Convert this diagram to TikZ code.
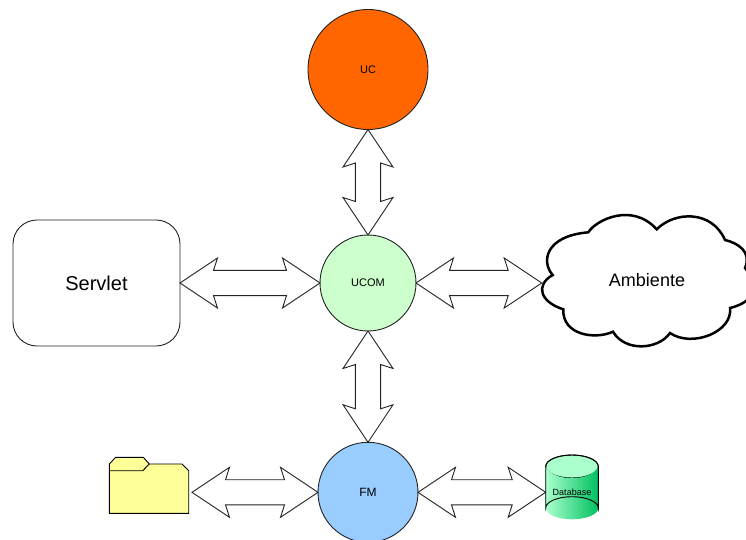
\documentclass[tikz,border=0pt]{standalone}
\usepackage{fontspec}
\setmainfont{Liberation Sans}
\usetikzlibrary{calc}
\definecolor{linegrey}{HTML}{222222}
\definecolor{ucfill}{HTML}{FF6600}
\definecolor{ucomfill}{HTML}{CCFFCC}
\definecolor{fmfill}{HTML}{99CCFF}
\definecolor{folderfill}{HTML}{FFFF99}
\definecolor{dblight}{HTML}{AAFFCC}
\definecolor{dbdark}{HTML}{00C060}
\tikzset{
  ball/.style={circle,draw=linegrey,line width=0.9pt,inner sep=0pt,outer sep=0pt,font=\fontsize{11}{13}\selectfont},
  box/.style={rectangle,draw=linegrey,line width=0.9pt,rounded corners=24pt,fill=white,inner sep=0pt,outer sep=0pt},
  anchorbox/.style={rectangle,inner sep=0pt,outer sep=0pt},
  fatarrow/.style={draw=linegrey,line width=0.9pt,fill=white,line join=miter},
  shapeline/.style={draw=black,line width=0.9pt,line join=miter}
}
\newcommand{\fatdbl}[2]{%
  \draw[fatarrow] (#1) -- ($(#1)!37.5pt!(#2)!25pt!90:(#2)$) -- ($(#1)!33.5pt!(#2)!12.6pt!90:(#2)$)
   -- ($(#2)!33.5pt!(#1)!12.6pt!-90:(#1)$) -- ($(#2)!37.5pt!(#1)!25pt!-90:(#1)$) -- (#2)
   -- ($(#2)!37.5pt!(#1)!25pt!90:(#1)$) -- ($(#2)!33.5pt!(#1)!12.6pt!90:(#1)$)
   -- ($(#1)!33.5pt!(#2)!12.6pt!-90:(#2)$) -- ($(#1)!37.5pt!(#2)!25pt!-90:(#2)$) -- cycle;}
\begin{document}
\begin{tikzpicture}[x=1pt,y=-1pt]
\useasboundingbox (0,0) rectangle (746,540);
\clip (0,0) rectangle (746,540);
% circles
\node[ball,fill=ucfill,minimum size=120pt] (uc) at (368,69.5) {UC};
\node[ball,fill=ucomfill,minimum size=96pt] (ucom) at (368,283) {UCOM};
\node[ball,fill=fmfill,minimum size=100pt,font=\fontsize{12}{14}\selectfont] (fm) at (368,492.3) {FM};
% servlet
\node[box,minimum width=167pt,minimum height=126pt,font=\fontsize{20}{24}\selectfont] (servlet) at (96.5,283) {Servlet};
% cloud
\draw[draw=black,line width=2.5pt,fill=white,line join=miter]
  (552.7,275) .. controls (541,262) and (545,236) .. (588.3,232.3)
  .. controls (596,220) and (632,202) .. (656.7,229.3)
  .. controls (675,211) and (712,210) .. (725,240)
  .. controls (738,243) and (752,252) .. (745,268)
  .. controls (755,280) and (762,300) .. (730,308)
  .. controls (733,332) and (692,348) .. (670,333)
  .. controls (658,350) and (625,352) .. (613,331.7)
  .. controls (595,340) and (562,335) .. (563.3,309.3)
  .. controls (540,302) and (535,285) .. (552.7,275) -- cycle;
\node[anchorbox,font=\fontsize{18}{22}\selectfont] (ambiente) at (647,280) {Ambiente};
\coordinate (cloudwest) at (541.7,283);
% folder
\draw[shapeline,fill=folderfill] (109.3,464) -- (115.7,457.3) -- (143.3,457.3) -- (149.3,464) -- (182,464)
  -- (188.7,470.7) -- (188.7,513.3) -- (109.3,513.3) -- cycle;
\draw[shapeline] (109.3,470.7) -- (142.7,470.7) -- (149.3,464);
\node[anchorbox,minimum width=79.4pt,minimum height=43pt] (folder) at (149,492.3) {};
\coordinate (folderwest) at (192,492.3);
% database
\shade[left color=dblight,right color=dbdark] (545.7,466.5) -- (545.7,508) arc[start angle=180,end angle=360,x radius=26.3,y radius=-11.3]
  -- (598,466.5) arc[start angle=0,end angle=180,x radius=26.2,y radius=11.5] -- cycle;
\draw[draw=black,line width=0.9pt,fill=dblight] (545.7,466.5) arc[start angle=180,end angle=0,x radius=26.3,y radius=-11.5]
  arc[start angle=0,end angle=-180,x radius=26.3,y radius=-11.5] -- cycle;
\shade[left color=dblight,right color=dbdark] (545.7,466.5) .. controls (552,482) and (592,482) .. (598.3,466.5) -- (598.3,490) -- (545.7,490) -- cycle;
\draw[draw=black,line width=0.9pt] (545.7,466.5) arc[start angle=180,end angle=0,x radius=26.3,y radius=-11.5]
  -- (598.3,508) arc[start angle=0,end angle=180,x radius=26.3,y radius=-11.3] -- cycle;
\node[anchorbox,minimum width=52.6pt,minimum height=20pt,font=\fontsize{9}{11}\selectfont] (db) at (572,492.3) {Database};
% arrows
\fatdbl{uc.south}{ucom.north}
\fatdbl{ucom.south}{fm.north}
\fatdbl{servlet.east}{ucom.west}
\fatdbl{ucom.east}{cloudwest}
\fatdbl{folderwest}{fm.west}
\fatdbl{fm.east}{db.west}
\end{tikzpicture}
\end{document}
